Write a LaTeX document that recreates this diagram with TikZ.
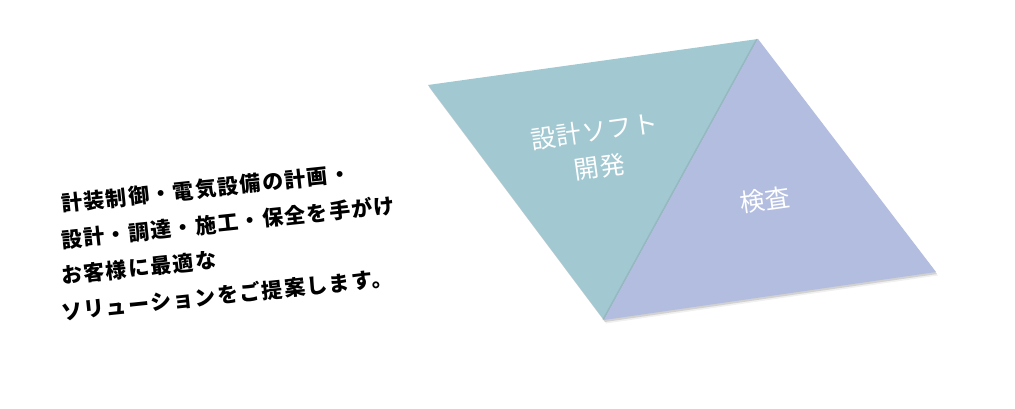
\documentclass[tikz,border=0pt]{standalone}
\usepackage{fontspec}
\newfontfamily\jpbody{Noto Sans CJK JP}[LetterSpace=7]
\newfontfamily\jplabel{Noto Sans CJK JP}[LetterSpace=3]
\definecolor{tealtri}{HTML}{A2C8D2}
\definecolor{lavtri}{HTML}{B2BDE0}
\begin{document}
\begin{tikzpicture}[x=1pt,y=-1pt,
  bodyline/.style={anchor=west,rotate=6,inner sep=0pt,font=\jpbody\bfseries\fontsize{21}{24}\selectfont,text=black},
  trilabel/.style={rotate=8,inner sep=0pt,align=center,text=white,font=\jplabel\fontsize{25}{36}\selectfont},
  shadowtri/.style={fill=black,opacity=0.12}]
\useasboundingbox (0,0) rectangle (1015,409);
\fill[white] (0,0) rectangle (1015,409);
\coordinate (L) at (428,85);
\coordinate (T) at (758,39);
\coordinate (B) at (604,320);
\coordinate (R) at (936,272);
% soft shadows
\fill[shadowtri] ([shift={(1,2)}]L) -- ([shift={(1,2)}]T) -- ([shift={(1,2)}]R) -- ([shift={(1,2)}]B) -- cycle;
\fill[black,opacity=0.06] ([shift={(2,3.5)}]L) -- ([shift={(2,3.5)}]T) -- ([shift={(2,3.5)}]R) -- ([shift={(2,3.5)}]B) -- cycle;
% triangles
\fill[tealtri] (L) -- (T) -- (B) -- cycle;
\fill[black,opacity=0.08] ([xshift=-2]T) -- ([xshift=-2]B) -- (B) -- (T) -- cycle;
\fill[lavtri] (T) -- (R) -- (B) -- cycle;
% labels
\node[trilabel] (soft) at (597,149) {設計ソフト\\開発};
\node[trilabel] (kensa) at (765,200) {検査};
% body text
\node[bodyline] (l1) at (61,204) {計装制御・電気設備の計画・};
\node[bodyline] (l2) at (61,240) {設計・調達・施工・保全を手がけ};
\node[bodyline] (l3) at (61,276) {お客様に最適な};
\node[bodyline] (l4) at (61,312) {ソリューションをご提案します。};
\end{tikzpicture}
\end{document}
